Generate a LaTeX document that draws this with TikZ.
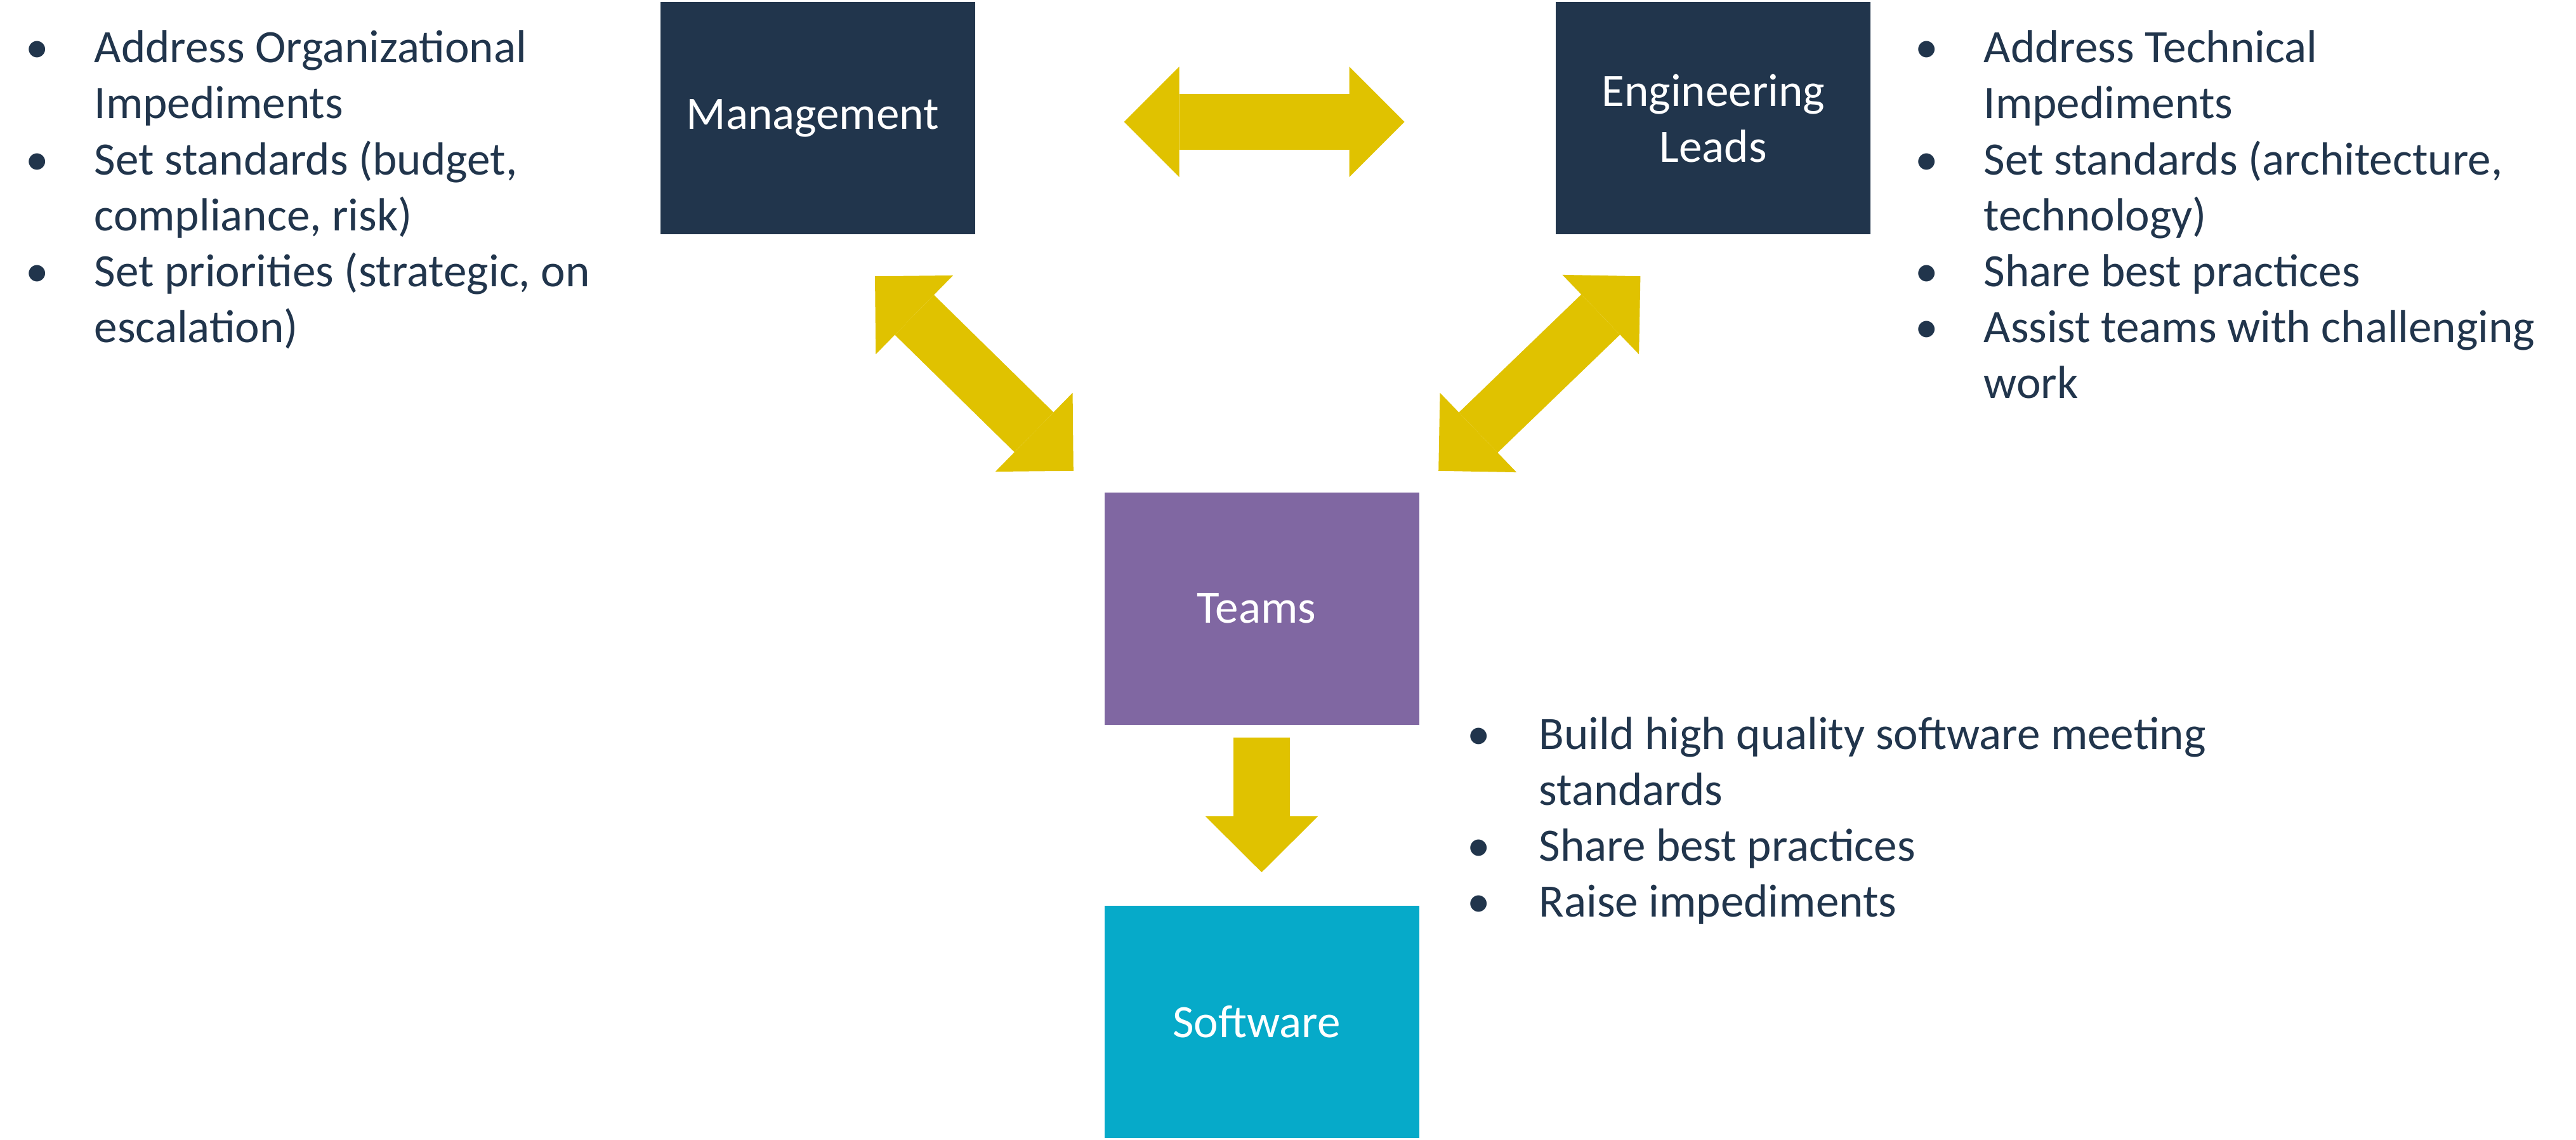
\documentclass[tikz,border=0pt]{standalone}
\usepackage{fontspec}
\setmainfont{Carlito}
\usetikzlibrary{positioning,arrows.meta}

\definecolor{navy}{HTML}{21354C}
\definecolor{purp}{HTML}{8067A2}
\definecolor{teal}{HTML}{06AAC9}
\definecolor{gold}{HTML}{E0C200}

% bullet line with hanging indent
\newcommand{\bul}[2][1cm]{\par\hangindent=#1\hangafter=1\noindent
	\makebox[#1][l]{\hspace*{-0.08cm}\textbullet}#2}
\newcommand{\bullist}[2]{\parbox[t]{#1}{\raggedright #2}}

\begin{document}
\begin{tikzpicture}[font=\fontsize{20.8}{25.04}\selectfont, node distance = 2.84cm,
	block/.style = { rectangle, fill=#1, text=white, align=center,
	minimum width=4.96cm, minimum height=3.66cm, inner sep=0pt },
	list/.style = { text=navy, inner sep=0pt, anchor=base west },
	bigarrow/.style = { draw=gold, line width=0.88cm,
	{Triangle[length=0.87cm, width=1.74cm, line width=0pt]}-{Triangle[length=0.87cm, width=1.74cm, line width=0pt]} },
	downarrow/.style = { draw=gold, line width=0.89cm,
	-{Triangle[length=0.88cm, width=1.77cm, line width=0pt]} } ]

  \useasboundingbox (0,0) rectangle (40.6,-17.96);

  \node [name=mgmt, block=navy] at (12.89,-1.865) { Management };
  \node [name=eng, block=navy, right=9.14cm of mgmt] { Engineering\\Leads };
  \node [name=teams, block=purp] at (19.885,-9.585) { Teams };
  \node [name=soft, block=teal, below=of teams] { Software };

  \node [name=mgmtlist, list] at (0.48,-0.99) {\bullist{12cm}{%
	\bul{Address Organizational\newline Impediments}%
	\bul{Set standards (budget,\newline compliance, risk)}%
	\bul{Set priorities (strategic, on\newline escalation)}}};
  \node [name=englist, list] at (30.26,-0.99) {\bullist{14cm}{%
	\bul{Address Technical\newline Impediments}%
	\bul{Set standards (architecture,\newline technology)}%
	\bul{Share best practices}%
	\bul{Assist teams with challenging\newline work}}};
  \node [name=teamlist, list] at (23.20,-11.80) {\bullist{14cm}{%
	\bul[1.05cm]{Build high quality software meeting\newline standards}%
	\bul[1.05cm]{Share best practices}%
	\bul[1.05cm]{Raise impediments}}};

  \draw [bigarrow, shorten <=2.34cm, shorten >=2.38cm]
	([yshift=-0.055cm]mgmt.east) -- ([yshift=-0.055cm]eng.west);
  \draw [bigarrow] ([xshift=0.9cm,yshift=-0.65cm]mgmt.south)
	-- ([xshift=-0.48cm,yshift=0.33cm]teams.north west);
  \draw [bigarrow] ([xshift=-1.15cm,yshift=-0.65cm]eng.south)
	-- ([xshift=0.30cm,yshift=0.33cm]teams.north east);
  \draw [downarrow, shorten <=0.2cm, shorten >=0.52cm] (teams.south) -- (soft.north);
\end{tikzpicture}
\end{document}
